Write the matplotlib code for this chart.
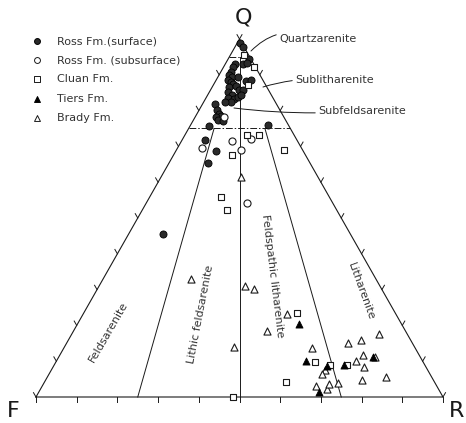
import numpy as np
import matplotlib
matplotlib.use("Agg")
import matplotlib.pyplot as plt

# compositions in percent (Q = quartz, F = feldspar, R = rock fragments)
ross_surf_q = [98.9, 97.8, 94.5, 92.9, 93.3, 93.0, 92.1, 90.8, 89.9, 89.3, 88.5, 88.0, 87.4, 86.5,
               86.8, 85.7, 85.7, 88.2, 88.6, 85.2, 84.4, 83.4, 83.2, 82.4, 83.8, 84.4, 81.8, 80.3,
               79.1, 78.4, 78.1, 77.3, 75.7, 76.1, 77.1, 71.8, 68.8, 65.3, 45.4, 89.4, 82.4]
ross_surf_f = [0.4, 0.3, 0.5, 2.8, 1.6, 4.6, 5.6, 6.8, 7.6, 7.1, 8.5, 8.2, 7.8, 9.3,
               7.4, 7.3, 6.2, 4.3, 2.9, 10.3, 9.7, 11.1, 9.8, 11.0, 8.4, 7.4, 15.1, 15.5,
               15.4, 15.4, 16.8, 16.6, 19.6, 4.9, 15.4, 22.6, 21.4, 25.0, 46.0, 5.7, 12.4]
ross_surf_r = [0.7, 1.9, 5.0, 4.3, 5.1, 2.4, 2.3, 2.4, 2.5, 3.6, 3.0, 3.8, 4.8, 4.2,
               5.8, 7.0, 8.1, 7.5, 8.5, 4.5, 5.9, 5.5, 7.0, 6.6, 7.8, 8.2, 3.1, 4.2,
               5.5, 6.2, 5.1, 6.1, 4.7, 19.0, 7.5, 5.6, 9.8, 9.7, 8.6, 4.9, 5.2]

ross_sub_q = [78.1, 69.5, 71.6, 72.1, 69.0, 54.1]
ross_sub_f = [14.8, 24.5, 16.0, 11.2, 15.2, 21.2]
ross_sub_r = [7.1, 6.0, 12.4, 16.7, 15.8, 24.7]

cluan_q = [95.5, 92.1, 87.2, 73.2, 73.2, 67.6, 69.0, 55.9, 52.2, 23.5, 9.9, 8.9, 8.8, 4.2, 0.0]
cluan_f = [1.2, 0.3, 4.2, 11.6, 8.6, 18.0, 4.5, 26.7, 27.0, 24.2, 26.5, 23.2, 19.1, 36.5, 51.5]
cluan_r = [3.3, 7.6, 8.6, 15.2, 18.2, 14.4, 26.5, 17.4, 20.8, 52.3, 63.6, 67.9, 72.1, 59.3, 48.5]

tiers_q = [20.4, 10.0, 8.7, 1.5, 8.8, 11.1]
tiers_f = [25.2, 28.7, 24.2, 29.6, 20.0, 11.6]
tiers_r = [54.4, 61.3, 67.1, 68.9, 71.2, 77.3]

brady_q = [61.4, 33.0, 30.9, 30.2, 23.2, 18.3, 13.9, 13.8, 7.5, 6.4, 3.1, 2.2, 3.5, 4.0,
           15.0, 15.9, 17.5, 11.7, 11.1, 10.1, 8.4, 4.8, 5.6]
brady_f = [18.9, 45.4, 33.2, 31.3, 26.7, 34.1, 44.4, 25.2, 25.2, 26.5, 29.7, 27.5, 26.2, 23.7,
           15.8, 12.2, 6.9, 13.9, 11.2, 16.4, 15.2, 17.5, 11.2]
brady_r = [19.7, 21.6, 35.9, 38.5, 50.1, 47.6, 41.7, 61.0, 67.3, 67.1, 67.2, 70.3, 70.3, 72.3,
           69.2, 71.9, 75.6, 74.4, 77.7, 73.5, 76.4, 77.7, 83.2]

LEGEND = ["Ross Fm.(surface)", "Ross Fm. (subsurface)", "Cluan Fm.", "Tiers Fm.", "Brady Fm."]

# triangle placement on the page (pixels)
X0, W, Y0, H = 36.0, 407.0, 397.0, 358.0
INK = "#1a1a1a"
TXT = "#333333"


def tern(q, f, r):
    q, f, r = np.asarray(q, float), np.asarray(f, float), np.asarray(r, float)
    s = q + f + r
    q, r = q / s, r / s
    return X0 + W * (r + q / 2), Y0 - H * q


fig = plt.figure(figsize=(4.66, 4.23), dpi=100)
ax = fig.add_axes([0, 0, 1, 1])
ax.set_xlim(0, 466)
ax.set_ylim(423, 0)
ax.axis("off")

# outline
x, y = tern([0, 0, 100, 0], [100, 0, 0, 100], [0, 100, 0, 0])
ax.plot(x, y, color=INK, lw=0.8)

# class boundaries
dash = (0, (7, 2, 1.5, 2))
for q in (95, 75):
    x, y = tern([q, q], [100 - q, 0], [0, 100 - q])
    ax.plot(x, y, color=INK, lw=0.7, ls=dash)
for frac, qtop in ((0.5, 95), (0.75, 75), (0.25, 75)):
    rest = 100 - qtop
    x, y = tern([qtop, 0], [rest * frac, 100 * frac], [rest * (1 - frac), 100 * (1 - frac)])
    ax.plot(x, y, color=INK, lw=0.7)

# ticks every 10 %
L = 5
for p in range(0, 101, 10):
    bx, by = tern(0, 100 - p, p)
    ax.plot([bx, bx], [by, by + L], color=INK, lw=0.7)
    lx, ly = tern(p, 100 - p, 0)
    ax.plot([lx, lx - L * 0.5], [ly, ly - L * 0.87], color=INK, lw=0.7)
    rx, ry = tern(p, 0, 100 - p)
    ax.plot([rx, rx + L * 0.5], [ry, ry - L * 0.87], color=INK, lw=0.7)

# data
ms = 26
ax.scatter(*tern(ross_surf_q, ross_surf_f, ross_surf_r), s=ms, marker="o",
           facecolor="#2a2a2a", edgecolor="black", lw=0.6, zorder=3)
ax.scatter(*tern(ross_sub_q, ross_sub_f, ross_sub_r), s=ms, marker="o",
           facecolor="white", edgecolor=INK, lw=0.8, zorder=3)
ax.scatter(*tern(cluan_q, cluan_f, cluan_r), s=20, marker="s",
           facecolor="white", edgecolor=INK, lw=0.8, zorder=3)
ax.scatter(*tern(brady_q, brady_f, brady_r), s=ms, marker="^",
           facecolor="white", edgecolor=INK, lw=0.8, zorder=3)
ax.scatter(*tern(tiers_q, tiers_f, tiers_r), s=ms, marker="^",
           facecolor="black", edgecolor="black", lw=0.6, zorder=4)

# legend
styles = [dict(marker="o", facecolor="#2a2a2a", edgecolor="black"),
          dict(marker="o", facecolor="white", edgecolor=INK),
          dict(marker="s", facecolor="white", edgecolor=INK),
          dict(marker="^", facecolor="black", edgecolor="black"),
          dict(marker="^", facecolor="white", edgecolor=INK)]
for i, (lab, st) in enumerate(zip(LEGEND, styles)):
    yy = 41 + 19.2 * i
    ax.scatter([37], [yy], s=18, lw=0.7, **st)
    ax.text(57, yy, lab, fontsize=8, color=TXT, va="center", ha="left")

# corner labels
ax.text(243, 17, "Q", fontsize=16, ha="center", va="center", color=INK)
ax.text(13, 411, "F", fontsize=16, ha="center", va="center", color=INK)
ax.text(457, 411, "R", fontsize=16, ha="center", va="center", color=INK)

# field names
tk = dict(fontsize=8, color=TXT, ha="center", va="center")
ax.text(108, 332, "Feldsarenite", rotation=60, **tk)
ax.text(201, 314, "Lithic feldsarenite", rotation=79, **tk)
ax.text(273, 276, "Feldspathic litharenite", rotation=-83, **tk)
ax.text(361, 291, "Litharenite", rotation=-70, **tk)

arrow = dict(arrowstyle="-", color=INK, lw=0.7, shrinkA=0, shrinkB=0)
ax.annotate("Quartzarenite", xy=(251, 51), xytext=(279, 39), ha="left", va="center",
            fontsize=8, color=TXT,
            arrowprops=dict(connectionstyle="arc3,rad=0.35", **arrow))
ax.annotate("Sublitharenite", xy=(263, 87), xytext=(295, 80), ha="left", va="center",
            fontsize=8, color=TXT,
            arrowprops=dict(connectionstyle="arc3,rad=0.1", **arrow))
ax.annotate("Subfeldsarenite", xy=(234, 108), xytext=(318, 111), ha="left", va="center",
            fontsize=8, color=TXT,
            arrowprops=dict(connectionstyle="arc3,rad=-0.05", **arrow))

fig.savefig("out.png", dpi=100)
